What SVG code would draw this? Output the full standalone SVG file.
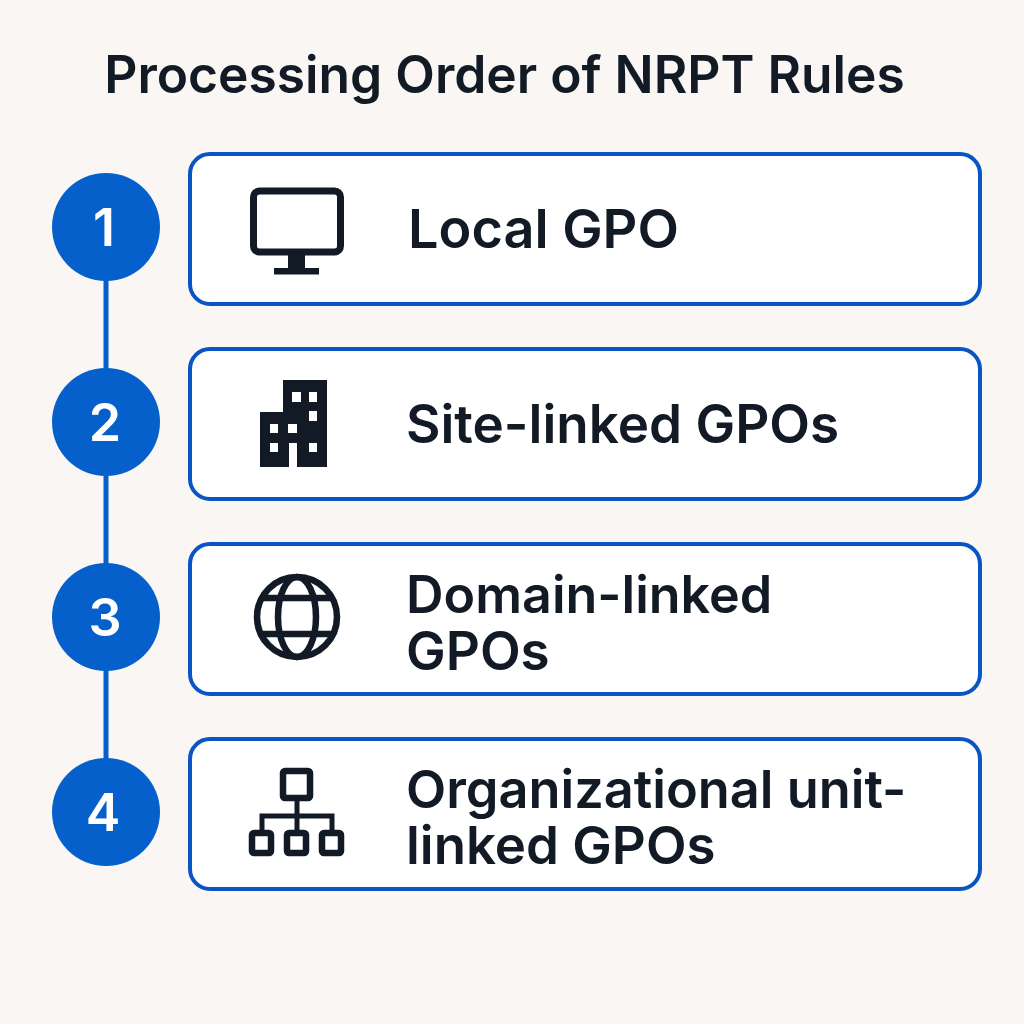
<svg xmlns="http://www.w3.org/2000/svg" width="1024" height="1024" viewBox="0 0 1024 1024">
<style>
.card{fill:#fff;stroke:#0a55c4;stroke-width:4}
.dot{fill:#0660cc}
.num{font:600 52px Inter,"Liberation Sans",sans-serif;fill:#fff;text-anchor:middle}
.lab{font:600 52px Inter,"Liberation Sans",sans-serif;fill:#111a25}
.title{font:600 51.500px Inter,"Liberation Sans",sans-serif;fill:#111a25}
.ln{fill:none;stroke:#111a25}
.ink{fill:#111a25}
.wh{fill:#fff}
</style>
<rect width="1024" height="1024" fill="#faf6f3"/>
<text id="title" class="title" x="504.500" y="93" text-anchor="middle">Processing Order of NRPT Rules</text>
<g id="connectors" stroke="#0660cc" stroke-width="5" fill="none">
<path d="M106 280V372M106 475V567M106 670V762"/>
</g>
<g id="step1"><circle class="dot" cx="106" cy="227" r="54"/><text class="num" x="104" y="246">1</text>
<rect class="card" x="190" y="154" width="790" height="150" rx="20"/>
<rect class="ln" stroke-width="7" x="253.500" y="191" width="87" height="61" rx="6"/>
<path class="ink" d="M288 254h17v14h-17zM274 268h45v6.500h-45z"/>
<text class="lab" x="408" y="248" style="font-size:54px">Local GPO</text></g>
<g id="step2"><circle class="dot" cx="106" cy="422" r="54"/><text class="num" x="105" y="441">2</text>
<rect class="card" x="190" y="349" width="790" height="150" rx="20"/>
<path class="ink" d="M283 380h44v87h-30v-24h-8v24h-29v-55h23z"/>
<path class="wh" d="M292 392h9v10h-9zM309 392h8v10h-8zM309 411h8v10h-8zM270 424h8v9h-8zM288 424h9v9h-9zM270 443h8v9h-8zM309 443h8v9h-8z"/>
<text class="lab" x="406" y="443" style="font-size:53px">Site-linked GPOs</text></g>
<g id="step3"><circle class="dot" cx="106" cy="617" r="54"/><text class="num" x="105" y="636">3</text>
<rect class="card" x="190" y="544" width="790" height="150" rx="20"/>
<g class="ln" stroke-width="6.500"><circle cx="297" cy="617" r="40"/><ellipse cx="297" cy="617" rx="19" ry="40"/><path d="M262 598H332M262 634H332"/></g>
<text class="lab" x="406" y="613">Domain-linked</text><text class="lab" x="406" y="670" style="font-size:53px">GPOs</text></g>
<g id="step4"><circle class="dot" cx="106" cy="812" r="54"/><text class="num" x="103" y="831">4</text>
<rect class="card" x="190" y="739" width="790" height="150" rx="20"/>
<g class="ln"><rect stroke-width="6.500" x="283" y="771" width="27" height="27" rx="2"/><path stroke-width="5" d="M297 800V833M262 833V816H332V833"/>
<rect stroke-width="6.500" x="252" y="833" width="19" height="20" rx="2"/><rect stroke-width="6.500" x="287" y="833" width="19" height="20" rx="2"/><rect stroke-width="6.500" x="322" y="833" width="19" height="20" rx="2"/></g>
<text class="lab" x="406" y="808" style="font-size:52.300px">Organizational unit-</text><text class="lab" x="406" y="864" style="font-size:52.800px">linked GPOs</text></g>
</svg>
